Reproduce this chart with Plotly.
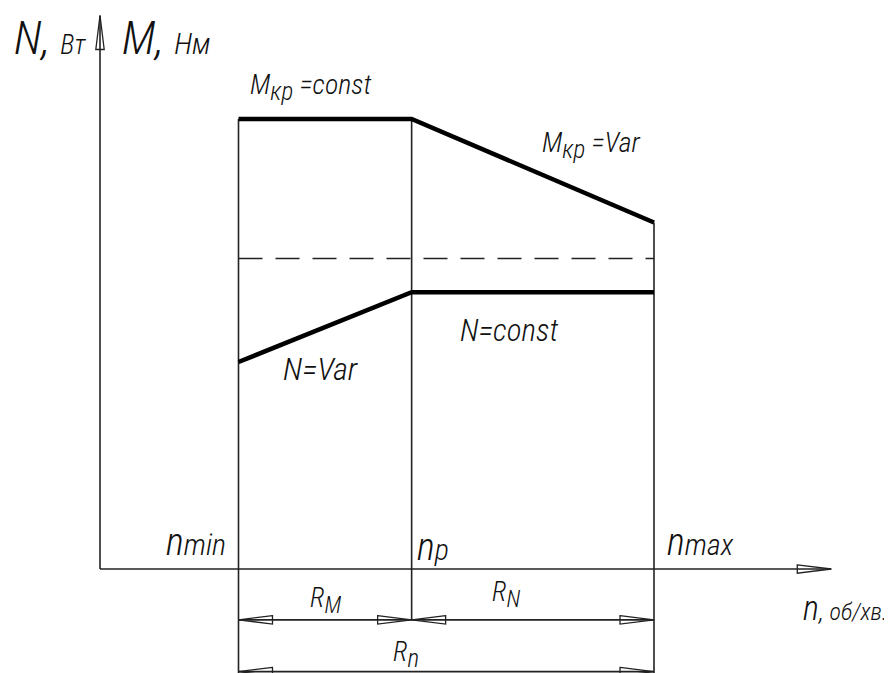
import plotly.graph_objects as go

# ---------------- data (schematic units) ----------------
speed_names = ["n_min", "n_p", "n_max"]
speeds = [500, 1125, 2000]          # n_min, n_p, n_max
torque = [100, 100, 77]             # M_кр at n_min, n_p, n_max
power = [46, 61.5, 61.5]            # N at n_min, n_p, n_max
dashed_level = [69, 69]             # reference level (dashed)
axis_ends = [2640, 123]             # lengths of the n-axis and the N/M axis
dim_levels = [-11.3, -22.8]         # dimension lines R_M/R_N and R_n

# ---------------- geometry of the canvas ----------------
PAGE = 8                            # default body margin of the html page
W, H = 892 - PAGE, 673 - PAGE
SX, SY = 0.277, 4.5                 # px per data unit
X0 = -(100 - PAGE) / SX
Y0 = -(H - (569 - PAGE)) / SY
XR = [X0, X0 + W / SX]
YR = [Y0, Y0 + H / SY]


def px_x(p):
    return X0 + (p - PAGE) / SX


def px_y(p):
    return Y0 + (H - (p - PAGE)) / SY


INK = "#222222"
THIN = 1.6
THICK = 4.5
FONT = "Liberation Sans Narrow, Roboto Condensed, Roboto, Liberation Sans, sans-serif"

fig = go.Figure()


def line(xs, ys, width=THIN, dash=None, color=INK):
    fig.add_trace(go.Scatter(x=xs, y=ys, mode="lines", hoverinfo="skip",
                             line=dict(color=color, width=width, dash=dash),
                             showlegend=False))


# axes
line([0, axis_ends[0]], [0, 0])
line([0, 0], [0, axis_ends[1]])

# vertical speed lines
line([speeds[0], speeds[0]], [torque[0], YR[0] - 5])
line([speeds[1], speeds[1]], [torque[1], dim_levels[0]])
line([speeds[2], speeds[2]], [torque[2], YR[0] - 5])

# dashed level
line([speeds[0], speeds[2]], dashed_level, dash="24px,13px")

# dimension lines
line([speeds[0], speeds[2]], [dim_levels[0]] * 2)
line([speeds[0], speeds[2]], [dim_levels[1]] * 2)

# thick characteristic curves
line(speeds, torque, width=THICK, color="#000000")
line(speeds, power, width=THICK, color="#000000")

# ---------------- arrowheads (hollow, narrow) ----------------
AL, AW = 34, 4.2


def arrow_h(xt, yt, direction):
    xb = xt - direction * AL / SX
    return f"M {xb},{yt + AW / SY} L {xt},{yt} L {xb},{yt - AW / SY} Z"


def arrow_v(xt, yt):
    yb = yt - AL / SY
    return f"M {xt - AW / SX},{yb} L {xt},{yt} L {xt + AW / SX},{yb} Z"


paths = [
    arrow_h(axis_ends[0], 0, +1),
    arrow_v(0, axis_ends[1]),
    arrow_h(speeds[0], dim_levels[0], -1),
    arrow_h(speeds[1], dim_levels[0], +1),
    arrow_h(speeds[1], dim_levels[0], -1),
    arrow_h(speeds[2], dim_levels[0], +1),
    arrow_h(speeds[0], dim_levels[1], -1),
    arrow_h(speeds[2], dim_levels[1], +1),
]
for p in paths:
    fig.add_shape(type="path", path=p, xref="x", yref="y",
                  line=dict(color=INK, width=1.3), fillcolor="rgba(255,255,255,0)")

# ---------------- labels ----------------


def label(text, xpx, ypx, size, xanchor="left"):
    fig.add_annotation(x=px_x(xpx), y=px_y(ypx), xref="x", yref="y",
                       text=text, showarrow=False, xanchor=xanchor,
                       yanchor="middle",
                       font=dict(family=FONT, size=size, color="#111111",
                                 style="italic", weight=300))


def nlab(rest, big=38):
    return f"<span style='font-size:{big}px'>n</span>{rest}"


def sub(t, size):
    return f"<sub><span style='font-size:{size}px'>{t}</span></sub>"


label("N, <span style='font-size:27px'>Вт</span>", 12, 38, 46)
label("M, <span style='font-size:30px'>Нм</span>", 120, 38, 46)
label("M" + sub("кр", 25) + " =const", 248, 87, 28)
label("M" + sub("кр", 25) + " =Var", 540, 145, 28)
label("N=const", 458, 330, 31)
label("N=Var", 281, 369, 32)
label(nlab("min"), 228, 542, 30, xanchor="right")
label(nlab("p"), 415, 547, 30)
label(nlab("max"), 665, 542, 30)
label(nlab(", <span style='font-size:24px'>об/хв.</span>", 34), 889, 608, 26,
      xanchor="right")
label("R" + sub("M", 23), 308, 600, 27)
label("R" + sub("N", 23), 490, 594, 27)
label("R" + sub("n", 25), 391, 654, 27)

fig.update_layout(
    width=W, height=H,
    margin=dict(l=0, r=0, t=0, b=0),
    paper_bgcolor="white", plot_bgcolor="white",
    xaxis=dict(range=XR, visible=False, fixedrange=True),
    yaxis=dict(range=YR, visible=False, fixedrange=True),
    showlegend=False,
)

fig.write_html("out.html")
